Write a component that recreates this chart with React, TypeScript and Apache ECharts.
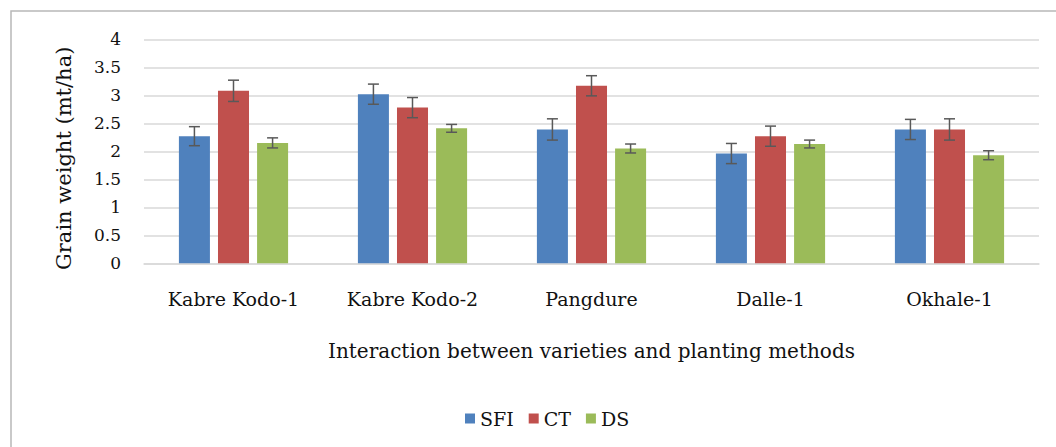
import React, { useEffect, useRef } from "react";
import * as echarts from "echarts";

const categories = ["Kabre Kodo-1", "Kabre Kodo-2", "Pangdure", "Dalle-1", "Okhale-1"];
const seriesNames = ["SFI", "CT", "DS"];
const sfiValues = [2.27, 3.02, 2.39, 1.96, 2.39];
const ctValues = [3.08, 2.78, 3.17, 2.27, 2.39];
const dsValues = [2.15, 2.41, 2.05, 2.13, 1.93];
const sfiErrors = [0.17, 0.18, 0.19, 0.18, 0.18];
const ctErrors = [0.19, 0.18, 0.18, 0.18, 0.19];
const dsErrors = [0.09, 0.07, 0.08, 0.07, 0.08];
const colors = ["#4F81BD", "#C0504D", "#9BBB59"];

const FONT = "DejaVu Serif";
const CAT_GAP = 0.39;
const BAR_GAP = 0.26;

export default function App() {
  const ref = useRef<HTMLDivElement>(null);

  useEffect(() => {
    if (!ref.current) return;
    const chart = echarts.init(ref.current, undefined, { renderer: "svg" });
    const values = [sfiValues, ctValues, dsValues];
    const errors = [sfiErrors, ctErrors, dsErrors];

    const barSeries = seriesNames.map((name, s) => ({
      name,
      type: "bar",
      data: values[s],
      barCategoryGap: "39%",
      barGap: "26%",
      itemStyle: { color: colors[s] },
    }));

    const errSeries = seriesNames.map((name, s) => ({
      type: "custom",
      name: name + " error",
      z: 5,
      silent: true,
      data: values[s].map((v, i) => [i, v - errors[s][i], v + errors[s][i]]),
      encode: { x: 0, y: [1, 2] },
      renderItem: (params: any, api: any) => {
        const idx = api.value(0);
        const low = api.coord([idx, api.value(1)]);
        const high = api.coord([idx, api.value(2)]);
        const band = api.size([1, 0])[0];
        const n = 3;
        const bw = (band * (1 - CAT_GAP)) / (n + (n - 1) * BAR_GAP);
        const total = n * bw + (n - 1) * bw * BAR_GAP;
        const x = low[0] - total / 2 + s * bw * (1 + BAR_GAP) + bw / 2;
        const cap = 5.5;
        const style = { stroke: "#595959", lineWidth: 1.5 };
        return {
          type: "group",
          children: [
            { type: "line", shape: { x1: x, y1: high[1], x2: x, y2: low[1] }, style },
            { type: "line", shape: { x1: x - cap, y1: high[1], x2: x + cap, y2: high[1] }, style },
            { type: "line", shape: { x1: x - cap, y1: low[1], x2: x + cap, y2: low[1] }, style },
          ],
        };
      },
    }));

    chart.setOption({
      animation: false,
      backgroundColor: "#ffffff",
      textStyle: { fontFamily: FONT, color: "#111111" },
      graphic: [
        {
          type: "rect",
          shape: { x: 11, y: 11, width: 1200, height: 600 },
          style: { fill: "none", stroke: "#B8B8B8", lineWidth: 1.5 },
          silent: true,
          z: -10,
        },
      ],
      grid: { left: 144, right: 17, top: 39.3, bottom: 183.7, containLabel: false },
      legend: {
        data: seriesNames,
        left: 460,
        top: 404,
        icon: "rect",
        itemWidth: 10,
        itemHeight: 10,
        itemGap: 15,
        textStyle: { fontFamily: FONT, fontSize: 19, color: "#111111" },
      },
      xAxis: {
        type: "category",
        data: categories,
        axisTick: { show: false },
        axisLine: { lineStyle: { color: "#D9D9D9", width: 1.5 } },
        axisLabel: { fontFamily: FONT, fontSize: 19, color: "#111111", margin: 26 },
        name: "Interaction between varieties and planting methods",
        nameLocation: "middle",
        nameGap: 78,
        nameTextStyle: { fontFamily: FONT, fontSize: 20, color: "#111111" },
      },
      yAxis: {
        type: "value",
        min: 0,
        max: 4,
        interval: 0.5,
        axisLine: { show: false },
        axisTick: { show: false },
        splitLine: { lineStyle: { color: "#D9D9D9", width: 1.5 } },
        axisLabel: { fontFamily: FONT, fontSize: 17, color: "#111111", margin: 23 },
        name: "Grain weight (mt/ha)",
        nameLocation: "middle",
        nameRotate: 90,
        nameGap: 70,
        nameTextStyle: { fontFamily: FONT, fontSize: 21, color: "#111111", padding: [0, 14, 0, 0] },
      },
      series: [...barSeries, ...errSeries],
    });

    return () => chart.dispose();
  }, []);

  return (
    <div
      ref={ref}
      style={{ position: "fixed", left: 0, top: 0, width: 1056, height: 447 }}
    />
  );
}
